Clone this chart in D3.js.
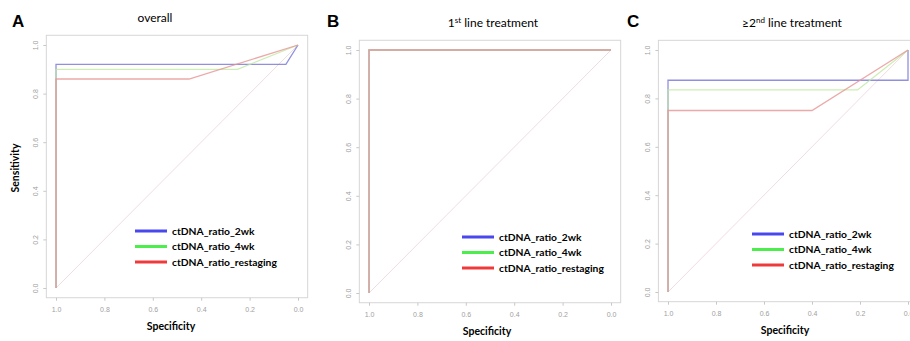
<!DOCTYPE html>
<html>
<head>
<meta charset="utf-8">
<script src="https://cdn.jsdelivr.net/npm/d3@7"></script>
<style>
  body { margin: 0; background: #fff; }
  svg { display: block; font-family: Lato, "DejaVu Sans", sans-serif; }
</style>
</head>
<body>
<div id="chart"></div>
<script>
// series names shared by all three panels
const seriesNames = ["ctDNA_ratio_2wk", "ctDNA_ratio_4wk", "ctDNA_ratio_restaging"];
const specTicks = [1.0, 0.8, 0.6, 0.4, 0.2, 0.0];
const sensTicks = [0.0, 0.2, 0.4, 0.6, 0.8, 1.0];

// ROC points as [specificity, sensitivity]
const overall2wk = [[1, 0], [1, 0.92], [0.05, 0.92], [0, 1]];
const overall4wk = [[1, 0], [1, 0.90], [0.25, 0.90], [0, 1]];
const overallRestaging = [[1, 0], [1, 0.86], [0.45, 0.86], [0, 1]];

const first2wk = [[1, 0], [1, 1], [0, 1]];
const first4wk = [[1, 0], [1, 1], [0, 1]];
const firstRestaging = [[1, 0], [1, 1], [0, 1]];

const second2wk = [[1, 0], [1, 0.875], [0, 0.875], [0, 1]];
const second4wk = [[1, 0], [1, 0.835], [0.21, 0.835], [0, 1]];
const secondRestaging = [[1, 0], [1, 0.75], [0.40, 0.75], [0, 1]];

const curveColors = ["#7474d6", "#bfe8a0", "#e79494"];
const legendColors = ["#4848ee", "#4cee4c", "#ee3a3a"];

const panels = [
  { letter: "A", title: ["overall"], curves: [overall2wk, overall4wk, overallRestaging],
    x1: 56, x0: 298, y0: 288, y1: 45, letterX: 12, titleX: 155, titleY: 22,
    legX: 135, legY: 231, specY: 330, sens: true },
  { letter: "B", title: ["1", "st", " line treatment"], curves: [first2wk, first4wk, firstRestaging],
    x1: 369, x0: 611, y0: 293, y1: 50, letterX: 327, titleX: 493, titleY: 27,
    legX: 462, legY: 237, specY: 335, sens: false },
  { letter: "C", title: ["\u22652", "nd", " line treatment"], curves: [second2wk, second4wk, secondRestaging],
    x1: 668, x0: 908, y0: 292, y1: 50, letterX: 627, titleX: 792, titleY: 27,
    legX: 752, legY: 234, specY: 334, sens: false }
];

const width = 910, height = 341;
const svg = d3.select("#chart").append("svg")
  .attr("width", width)
  .attr("height", height);

panels.forEach(p => {
  const x = d3.scaleLinear().domain([1, 0]).range([p.x1, p.x0]);
  const y = d3.scaleLinear().domain([0, 1]).range([p.y0, p.y1]);
  const padX = (p.x0 - p.x1) * 0.04, padY = (p.y0 - p.y1) * 0.04;
  const left = p.x1 - padX, right = p.x0 + padX, top = p.y1 - padY, bottom = p.y0 + padY;

  const g = svg.append("g");

  // plot frame
  g.append("rect")
    .attr("x", left).attr("y", top)
    .attr("width", right - left).attr("height", bottom - top)
    .style("fill", "none")
    .style("stroke", "#d6d6d6");

  // y axis, R style labels parallel to the axis
  const ya = g.append("g")
    .attr("transform", `translate(${left},0)`)
    .call(d3.axisLeft(y).tickValues(sensTicks).tickSize(3).tickFormat(d3.format(".1f")));
  ya.select(".domain").remove();
  ya.selectAll("line").style("stroke", "#c8c8c8");
  ya.selectAll("text")
    .attr("x", 0).attr("dy", null)
    .attr("transform", "translate(-8,0) rotate(-90)")
    .style("text-anchor", "middle")
    .style("font-size", "7px")
    .style("fill", "#a0a0a0");

  const xa = g.append("g")
    .attr("transform", `translate(0,${bottom})`)
    .call(d3.axisBottom(x).tickValues(specTicks).tickSize(3).tickFormat(d3.format(".1f")));
  xa.select(".domain").remove();
  xa.selectAll("line").style("stroke", "#c8c8c8");
  xa.selectAll("text")
    .attr("y", 9)
    .style("font-size", "7px")
    .style("fill", "#a0a0a0");

  // chance diagonal
  g.append("line")
    .attr("x1", x(1)).attr("y1", y(0))
    .attr("x2", x(0)).attr("y2", y(1))
    .style("stroke", "#f0dce0")
    .style("stroke-width", 1);

  const line = d3.line().x(d => x(d[0])).y(d => y(d[1]));

  p.curves.forEach((c, i) => {
    g.append("path")
      .datum(c)
      .attr("d", line)
      .style("fill", "none")
      .style("stroke", curveColors[i])
      .style("stroke-opacity", 0.8)
      .style("stroke-width", 1.3);
  });

  // panel letter and title
  g.append("text")
    .attr("x", p.letterX).attr("y", 27)
    .style("font-family", "Liberation Sans, Arial, sans-serif")
    .style("font-weight", "bold")
    .style("font-size", "17px")
    .text(p.letter);

  const t = g.append("text")
    .attr("x", p.titleX).attr("y", p.titleY)
    .style("text-anchor", "middle")
    .style("font-size", "12px");
  p.title.forEach((s, i) => {
    t.append("tspan")
      .attr("dy", i === 1 ? -4 : (i === 2 ? 4 : 0))
      .style("font-size", i === 1 ? "8px" : "12px")
      .text(s);
  });

  // legend
  seriesNames.forEach((name, i) => {
    const ly = p.legY + i * 15.5;
    g.append("line")
      .attr("x1", p.legX).attr("x2", p.legX + 32)
      .attr("y1", ly).attr("y2", ly)
      .style("stroke", legendColors[i])
      .style("stroke-width", 3);
    g.append("text")
      .attr("x", p.legX + 37).attr("y", ly)
      .attr("dy", "0.35em")
      .style("font-weight", "bold")
      .style("font-size", "10.3px")
      .text(name);
  });

  g.append("text")
    .attr("x", (left + right) / 2 + (p.sens ? -6 : -3)).attr("y", p.specY)
    .style("text-anchor", "middle")
    .style("font-weight", "bold")
    .style("font-size", "10.5px")
    .text("Specificity");

  if (p.sens) {
    g.append("text")
      .attr("transform", `translate(19,168) rotate(-90)`)
      .style("text-anchor", "middle")
      .style("font-weight", "bold")
      .style("font-size", "10.5px")
      .text("Sensitivity");
  }
});
</script>
</body>
</html>
